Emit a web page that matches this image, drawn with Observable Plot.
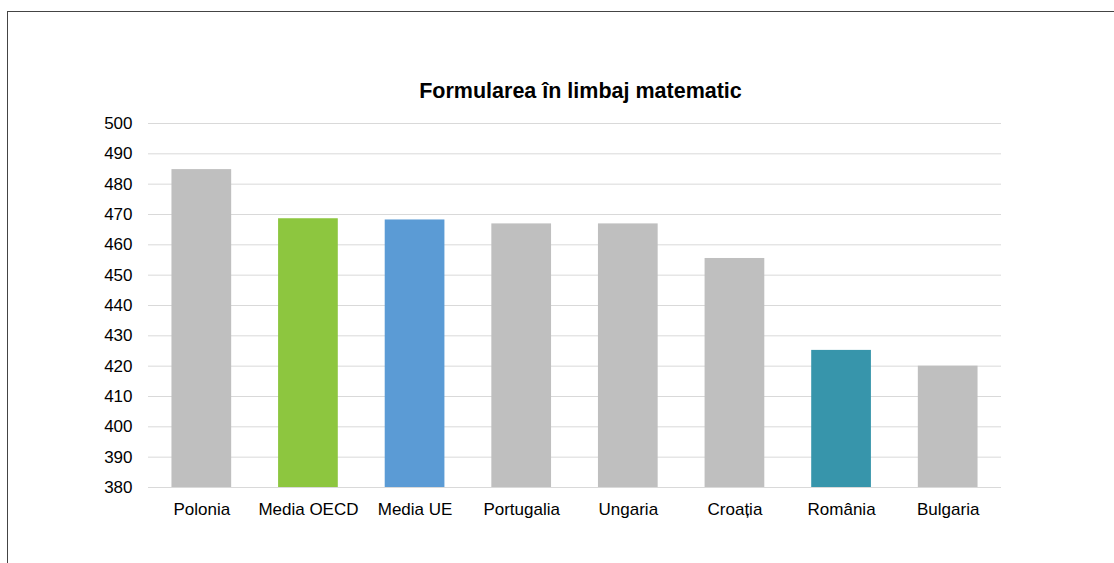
<!DOCTYPE html>
<html>
<head>
<meta charset="utf-8">
<script src="https://cdn.jsdelivr.net/npm/d3@7"></script>
<script src="https://cdn.jsdelivr.net/npm/@observablehq/plot@0.6"></script>
<style>
  html, body { margin: 0; padding: 0; background: #fff; overflow: hidden; }
  body { width: 1114px; height: 563px; position: relative; font-family: "Liberation Sans", Arial, sans-serif; }
  #frame { position: absolute; left: 7px; top: 11px; width: 1200px; height: 1000px; border: 1px solid #444; box-sizing: border-box; }
  #title { position: absolute; left: 580.5px; top: 81px; transform: translateX(-50%); font-size: 21.5px; line-height: 21.5px; font-weight: bold; color: #000; white-space: nowrap; }
  #chart { position: absolute; left: 0; top: 0; }
</style>
</head>
<body>
<div id="frame"></div>
<div id="chart"></div>
<div id="title">Formularea în limbaj matematic</div>
<script>
const categories = ["Polonia", "Media OECD", "Media UE", "Portugalia", "Ungaria", "Croația", "România", "Bulgaria"];
const values = [484.8, 468.6, 468.2, 466.9, 466.9, 455.5, 425.2, 420];
const colors = ["#BFBFBF", "#8DC63F", "#5B9BD5", "#BFBFBF", "#BFBFBF", "#BFBFBF", "#3795AB", "#BFBFBF"];
const yTicks = [380, 390, 400, 410, 420, 430, 440, 450, 460, 470, 480, 490, 500];

const rows = categories.map((c, i) => ({category: c, value: values[i], color: colors[i]}));

const chart = Plot.plot({
  width: 1114,
  height: 563,
  marginLeft: 148,
  marginRight: 113,
  marginTop: 123,
  marginBottom: 76,
  style: {fontFamily: "'Liberation Sans', Arial, sans-serif", color: "#000", background: "transparent"},
  x: {domain: categories, paddingInner: 0.44, paddingOuter: 0.22, round: false},
  y: {domain: [380, 500]},
  marks: [
    Plot.gridY(yTicks, {stroke: "#D9D9D9", strokeOpacity: 1, strokeWidth: 1}),
    Plot.barY(rows, {x: "category", y1: 380, y2: "value", fill: "color"}),
    Plot.axisY(yTicks, {tickSize: 0, tickPadding: 16, fontSize: 17, label: null, tickFormat: d => String(d)}),
    Plot.axisX({tickSize: 0, tickPadding: 15, fontSize: 17, label: null})
  ]
});
document.getElementById("chart").appendChild(chart);
</script>
</body>
</html>
